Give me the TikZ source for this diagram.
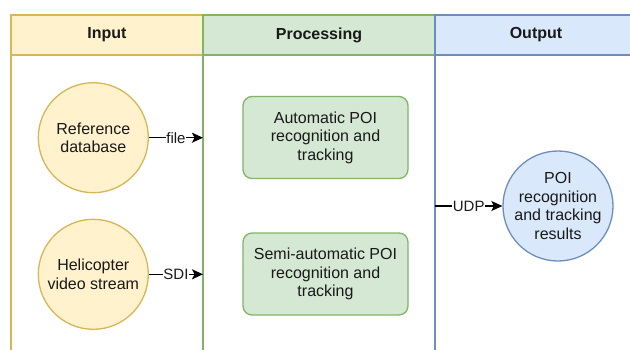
\documentclass[tikz,border=0pt]{standalone}
\usepackage{fontspec}
\setmainfont{Liberation Sans}
\usetikzlibrary{arrows.meta}
\definecolor{yfill}{HTML}{FFF2CC}
\definecolor{ystroke}{HTML}{D6B656}
\definecolor{gfill}{HTML}{D5E8D4}
\definecolor{gstroke}{HTML}{82B366}
\definecolor{bfill}{HTML}{DAE8FC}
\definecolor{bstroke}{HTML}{6C8EBF}
\tikzset{
  txt/.style={font=\fontsize{16}{18.6}\selectfont, align=center, text=black!90},
  hdr/.style={font=\fontsize{16}{19}\selectfont\bfseries, text=black!90},
  yellowcircle/.style={circle, draw=ystroke, fill=yfill, line width=1.3pt, minimum size=110pt, inner sep=0pt, txt},
  bluecircle/.style={circle, draw=bstroke, fill=bfill, line width=1.3pt, minimum size=110pt, inner sep=0pt, txt},
  greenbox/.style={rectangle, rounded corners=9pt, draw=gstroke, fill=gfill, line width=1.3pt, minimum width=165pt, minimum height=82pt, inner sep=0pt, txt},
  arr/.style={line width=1.3pt, -{Stealth[length=11pt,width=10pt,inset=2.5pt]}},
  lbl/.style={fill=white, inner sep=0.5pt, font=\fontsize{15}{17}\selectfont, text=black!90},
}
\begin{document}
\begin{tikzpicture}[x=1pt, y=-1pt]
\useasboundingbox (0,0) rectangle (630,349);
\clip (0,0) rectangle (630,349);
% lanes
\draw[ystroke, line width=1.3pt] (11,15) rectangle (203,400);
\draw[ystroke, fill=yfill, line width=1.3pt] (11,15) rectangle (203,55);
\draw[gstroke, line width=1.3pt] (203,15) rectangle (435,400);
\draw[gstroke, fill=gfill, line width=1.3pt] (203,15) rectangle (435,55);
\draw[bstroke, line width=1.3pt] (435,15) rectangle (700,400);
\draw[bstroke, fill=bfill, line width=1.3pt] (435,15) rectangle (700,55);
\node[hdr] (hin) at (107,35) {Input};
\node[hdr] (hproc) at (319,35) {Processing};
\node[hdr] (hout) at (536,35) {Output};
% nodes
\node[yellowcircle] (ref) at (93.3,137.7) {Reference\\database};
\node[yellowcircle] (heli) at (93.3,274.3) {Helicopter\\video stream};
\node[greenbox] (auto) at (325.5,137.5) {Automatic POI\\recognition and\\tracking};
\node[greenbox] (semi) at (325.5,274) {Semi-automatic POI\\recognition and\\tracking};
\node[bluecircle] (res) at (558,206) {POI\\recognition\\and tracking\\results};
\coordinate (pin1) at (203,137.7);
\coordinate (pin2) at (203,274.3);
\coordinate (udp) at (435,206);
% connectors
\draw[arr] (ref.east) -- node[lbl] {file} (pin1);
\draw[arr] (heli.east) -- node[lbl] {SDI} (pin2);
\draw[arr] (udp) -- node[lbl] {UDP} (res.west);
\end{tikzpicture}
\end{document}
